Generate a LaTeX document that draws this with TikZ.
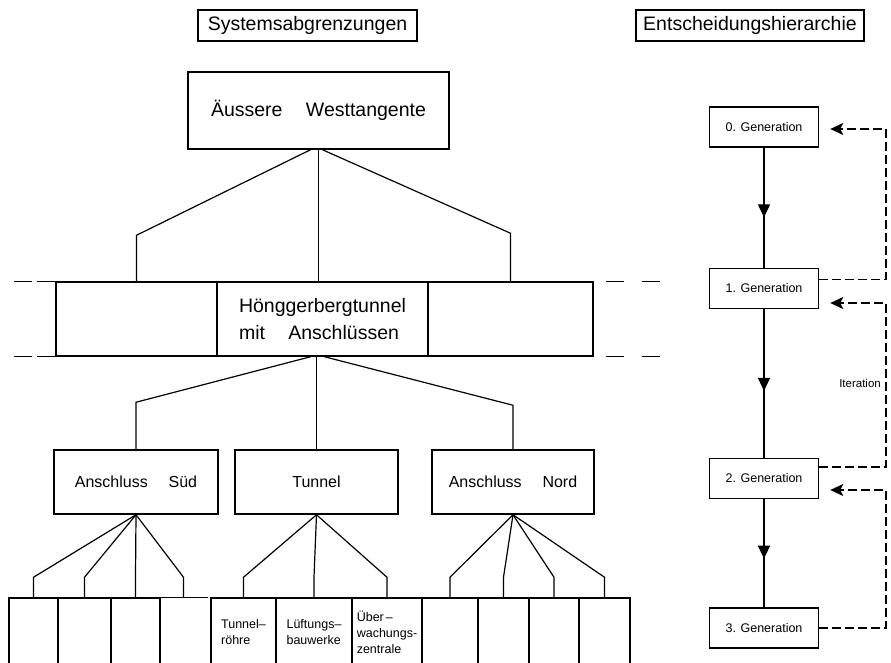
\documentclass[tikz,border=0pt]{standalone}
\usepackage{fontspec}
\setmainfont{Liberation Sans}
\usetikzlibrary{arrows.meta,decorations.markings,calc}

\newcommand{\gross}{\fontsize{19.5}{27}\selectfont}
\newcommand{\mittel}{\fontsize{16}{20}\selectfont}
\newcommand{\klein}{\fontsize{12.5}{16}\selectfont}

\tikzset{
	kasten/.style={draw, line width=1.5pt, inner sep=0pt, align=left},
	blatt/.style={kasten, minimum height=68, font=\klein},
	ast/.style={line width=1.2pt},
	rueck/.style={line width=1.2pt, dash pattern=on 9pt off 4pt, -{Stealth[length=13pt,width=12pt,inset=3pt]}},
	midpfeil/.style={decoration={markings, mark=at position #1 with {\arrow{Triangle[length=13pt,width=12pt]}}}, postaction={decorate}}
}

\begin{document}
\begin{tikzpicture}[x=1pt,y=-1pt]
	\useasboundingbox (0,0) rectangle (891,662);
	\clip (0,0) rectangle (891,662);

	\node[kasten, font=\gross, minimum width=219, minimum height=31] (sys) at (307.5,25.5) {Systemsabgrenzungen};
	\node[kasten, font=\gross, minimum width=228, minimum height=31] (ent) at (750,25.5) {Entscheidungshierarchie};

	\node[kasten, font=\gross, minimum width=261, minimum height=77] (aw) at (318.5,110.5) {Äussere\hspace{1.2em}Westtangente};

	\node[kasten, minimum width=161, minimum height=74] (bandL) at (136.5,319) {};
	\node[kasten, font=\gross, minimum width=211, minimum height=74] (hb) at (322.5,319) {Hönggerbergtunnel\\mit\hspace{1.2em}Anschlüssen};
	\node[kasten, minimum width=165, minimum height=74] (bandR) at (510.5,319) {};

	\draw[line width=1.2pt, dash pattern=on 18pt off 5pt] (bandL.north west) -- ++(-44,0);
	\draw[line width=1.2pt, dash pattern=on 18pt off 5pt] (bandL.south west) -- ++(-44,0);
	\draw[line width=1.2pt, dash pattern=on 18pt off 18pt] ([xshift=12pt]bandR.north east) -- ++(55,0);
	\draw[line width=1.2pt, dash pattern=on 18pt off 18pt] ([xshift=12pt]bandR.south east) -- ++(55,0);

	\node[kasten, font=\mittel, minimum width=164, minimum height=64] (sued) at (136,482) {Anschluss\hspace{1.3em}Süd};
	\node[kasten, font=\mittel, minimum width=163, minimum height=64] (tun) at (316.5,482) {Tunnel};
	\node[kasten, font=\mittel, minimum width=162, minimum height=64] (nord) at (513,482) {Anschluss\hspace{1.3em}Nord};

	\foreach \n/\x/\w in {s1/33.5/49, s2/84.5/53, s3/135.5/49, n1/450/56, n2/503.5/51, n3/554/50, n4/604.5/51}
		\node[blatt, minimum width=\w] (\n) at (\x,632) {};
	\node[blatt, draw=none, minimum width=47] (s4) at (183.5,632) {};
	\draw[line width=1.5pt] (s4.north east) -- (s4.north west);
	\node[blatt, minimum width=65] (t1) at (243.5,632) {Tunnel–\\röhre};
	\node[blatt, minimum width=76] (t2) at (314,632) {Lüftungs–\\bauwerke};
	\node[blatt, minimum width=70] (t3) at (387,632) {Über\,–\\wachungs-\\zentrale};

	\coordinate (hbfuss) at (tun.north |- hb.south);
	\draw[ast] ([xshift=-8pt]aw.south) -- ([yshift=46pt]bandL.north) -- (bandL.north);
	\draw[ast] (aw.south) -- (aw.south |- hb.north);
	\draw[ast] ([xshift=4pt]aw.south) -- ([yshift=48pt]bandR.north) -- (bandR.north);

	\draw[ast] ([xshift=-6pt]hbfuss) -- ([yshift=47pt]sued.north) -- (sued.north);
	\draw[ast] (hbfuss) -- (tun.north);
	\draw[ast] ([xshift=8pt]hbfuss) -- ([yshift=44pt]nord.north) -- (nord.north);

	\foreach \k in {s1,s2,s3,s4}
		\draw[ast] (sued.south) -- ([yshift=20pt]\k.north) -- (\k.north);
	\foreach \k in {t1,t2,t3}
		\draw[ast] (tun.south) -- ([yshift=20pt]\k.north) -- (\k.north);
	\foreach \k in {n1,n2,n3,n4}
		\draw[ast] (nord.south) -- ([yshift=20pt]\k.north) -- (\k.north);

	\node[kasten, font=\klein, minimum width=109, minimum height=40] (g0) at (764,127) {0. Generation};
	\node[kasten, font=\klein, minimum width=109, minimum height=40] (g1) at (764,288.5) {1. Generation};
	\node[kasten, font=\klein, minimum width=109, minimum height=40] (g2) at (764,478.5) {2. Generation};
	\node[kasten, font=\klein, minimum width=109, minimum height=40] (g3) at (764,628) {3. Generation};

	\draw[ast, midpfeil=0.58] (g0) -- (g1);
	\draw[ast, midpfeil=0.55] (g1) -- (g2);
	\draw[ast, midpfeil=0.55] (g2) -- (g3);

	\coordinate (schiene) at (886,0);
	\coordinate (a1) at ($(g1.east)+(0,-9)$);
	\coordinate (e0) at ($(g0.east)+(11,2)$);
	\coordinate (a2) at ($(g2.east)+(0,-11.5)$);
	\coordinate (e1) at ($(g1.east)+(11,14.5)$);
	\coordinate (a3) at (g3.east);
	\coordinate (e2) at ($(g2.east)+(11,11.5)$);
	\draw[rueck] (a1) -- (a1 -| schiene) -- (schiene |- e0) -- (e0);
	\draw[rueck] (a2) -- (a2 -| schiene) -- (schiene |- e1) -- (e1);
	\draw[rueck] (a3) -- (a3 -| schiene) -- (schiene |- e2) -- (e2);

	\node[font=\fontsize{11.5}{14}\selectfont, anchor=east, inner sep=0pt] (iter) at (881,383) {Iteration};

\end{tikzpicture}
\end{document}
